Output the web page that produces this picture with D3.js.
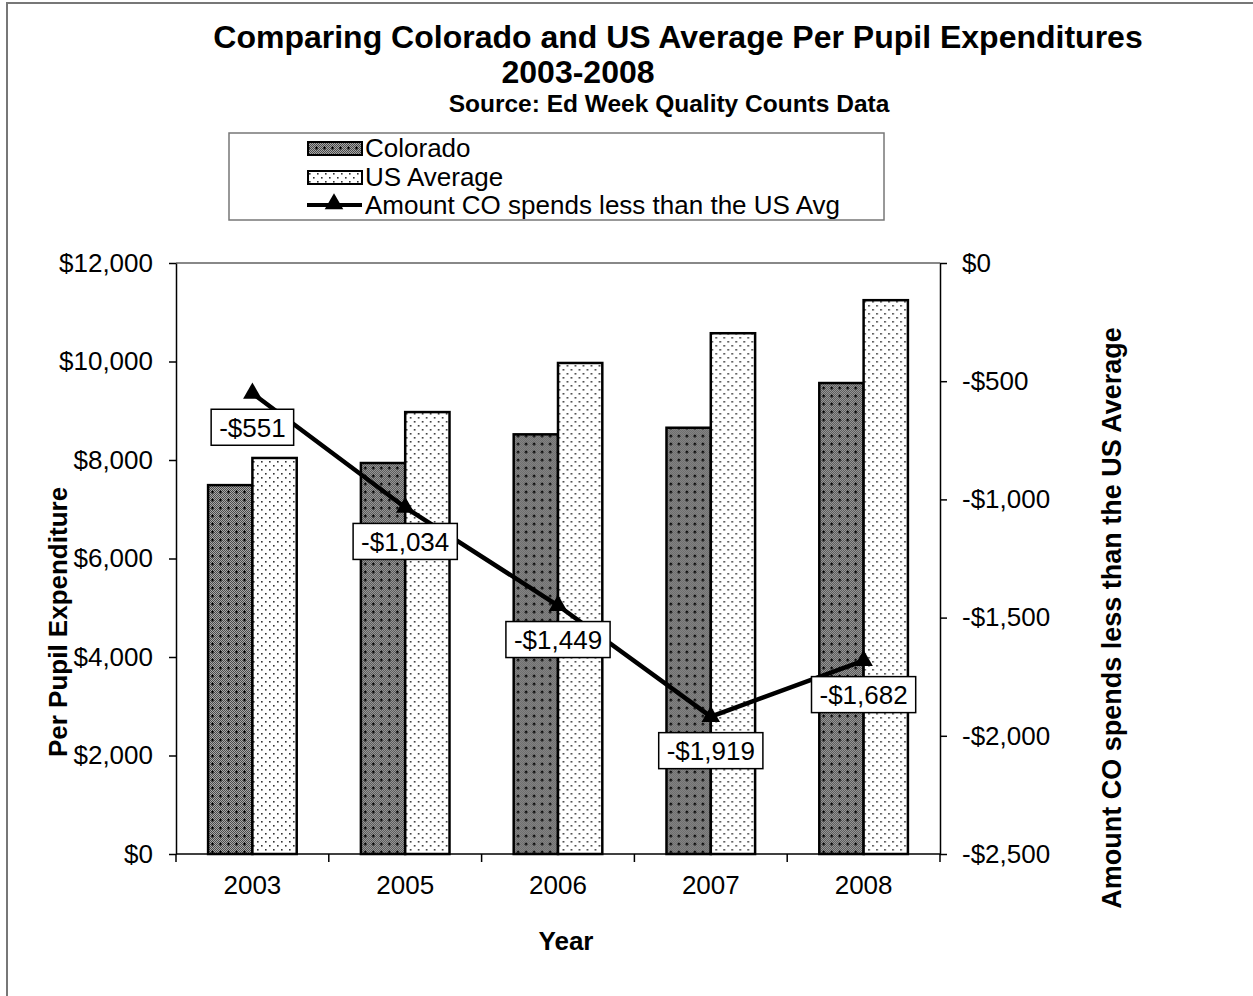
<!DOCTYPE html>
<html>
<head>
<meta charset="utf-8">
<script src="https://cdn.jsdelivr.net/npm/d3@7"></script>
<style>
  body { margin: 0; background: #fff; }
  svg { display: block; font-family: "Liberation Sans", Arial, sans-serif; }
</style>
</head>
<body>
<div id="chart"></div>
<script>
// Chart data
const years = ["2003", "2005", "2006", "2007", "2008"];
const colorado = [7490, 7939, 8521, 8655, 9563];
const usAverage = [8041, 8973, 9970, 10574, 11245];
const difference = [-551, -1034, -1449, -1919, -1682];
const leftTicks = [0, 2000, 4000, 6000, 8000, 10000, 12000];
const rightTicks = [0, -500, -1000, -1500, -2000, -2500];

const width = 1253, height = 996;
const plot = { left: 176, right: 940, top: 263, bottom: 854 };

const svg = d3.select("#chart").append("svg")
    .attr("width", width)
    .attr("height", height);

// Fill patterns
const defs = svg.append("defs");
const coPat = defs.append("pattern")
    .attr("id", "coPattern")
    .attr("patternUnits", "userSpaceOnUse")
    .attr("width", 8).attr("height", 8);
coPat.append("rect").attr("width", 8).attr("height", 8).attr("fill", "#a8a8a8");
for (let i = 0; i < 8; i++) {
    for (let j = 0; j < 8; j++) {
        if ((i + j) % 2 === 0) coPat.append("rect").attr("x", i).attr("y", j)
            .attr("width", 1).attr("height", 1).attr("fill", "#4a4a4a");
    }
}
coPat.append("path").attr("d", "M3,4h3M4.5,2.5v3").attr("stroke", "#000").attr("stroke-width", 1.2);

const usPat = defs.append("pattern")
    .attr("id", "usPattern")
    .attr("patternUnits", "userSpaceOnUse")
    .attr("width", 8).attr("height", 8);
usPat.append("rect").attr("width", 8).attr("height", 8).attr("fill", "#fff");
usPat.append("rect").attr("x", 1).attr("y", 1).attr("width", 1.6).attr("height", 1.6).attr("fill", "#333");
usPat.append("rect").attr("x", 5).attr("y", 5).attr("width", 1.6).attr("height", 1.6).attr("fill", "#333");

// Outer chart border
svg.append("rect")
    .attr("x", 7).attr("y", 3)
    .attr("width", 1400).attr("height", 1200)
    .attr("fill", "none")
    .attr("stroke", "#777")
    .attr("stroke-width", 2);

// Titles
svg.append("text").attr("x", 678).attr("y", 48).attr("text-anchor", "middle")
    .style("font-size", "32px").style("font-weight", "bold")
    .text("Comparing Colorado and US Average Per Pupil Expenditures");
svg.append("text").attr("x", 578).attr("y", 83).attr("text-anchor", "middle")
    .style("font-size", "32px").style("font-weight", "bold")
    .text("2003-2008");
svg.append("text").attr("x", 669).attr("y", 112).attr("text-anchor", "middle")
    .style("font-size", "24.5px").style("font-weight", "bold")
    .text("Source: Ed Week Quality Counts Data");

// Scales
const x0 = d3.scaleBand().domain(years).range([plot.left, plot.right]);
const barW = x0.bandwidth() * 0.29;
const x1 = d3.scaleBand().domain(["co", "us"])
    .range([x0.bandwidth() / 2 - barW, x0.bandwidth() / 2 + barW]);
const yL = d3.scaleLinear().domain([0, 12000]).range([plot.bottom, plot.top]);
const yR = d3.scaleLinear().domain([-2500, 0]).range([plot.bottom, plot.top]);

const money = v => (v < 0 ? "-$" : "$") + d3.format(",")(Math.abs(v));

// Plot area top border
svg.append("line")
    .attr("x1", plot.left).attr("x2", plot.right)
    .attr("y1", plot.top).attr("y2", plot.top)
    .attr("stroke", "#888").attr("stroke-width", 2);

// Bars
const groups = svg.append("g").selectAll("g")
    .data(years)
    .join("g")
    .attr("transform", d => `translate(${x0(d)},0)`);

groups.append("rect")
    .attr("x", x1("co"))
    .attr("y", (d, i) => yL(colorado[i]))
    .attr("width", x1.bandwidth())
    .attr("height", (d, i) => yL(0) - yL(colorado[i]))
    .attr("fill", "url(#coPattern)")
    .attr("stroke", "#000").attr("stroke-width", 2.5);

groups.append("rect")
    .attr("x", x1("us"))
    .attr("y", (d, i) => yL(usAverage[i]))
    .attr("width", x1.bandwidth())
    .attr("height", (d, i) => yL(0) - yL(usAverage[i]))
    .attr("fill", "url(#usPattern)")
    .attr("stroke", "#000").attr("stroke-width", 2.5);

// Axes
const styleAxis = g => {
    g.select(".domain").attr("stroke", "#000").attr("stroke-width", 1.5);
    g.selectAll(".tick line").attr("stroke", "#000").attr("stroke-width", 1.5);
    g.selectAll(".tick text").style("font-size", "26px").style("font-family", "Liberation Sans, Arial, sans-serif").attr("fill", "#000");
};

svg.append("g")
    .attr("transform", `translate(${plot.left},0)`)
    .call(d3.axisLeft(yL).tickValues(leftTicks).tickFormat(money).tickSize(7).tickPadding(16).tickSizeOuter(0))
    .call(styleAxis);

svg.append("g")
    .attr("transform", `translate(${plot.right},0)`)
    .call(d3.axisRight(yR).tickValues(rightTicks).tickFormat(money).tickSize(7).tickPadding(15).tickSizeOuter(0))
    .call(styleAxis);

// X axis: line, category-boundary ticks, labels
const xAxis = svg.append("g");
xAxis.append("line")
    .attr("x1", plot.left).attr("x2", plot.right)
    .attr("y1", plot.bottom).attr("y2", plot.bottom)
    .attr("stroke", "#000").attr("stroke-width", 1.5);
const bounds = years.map(d => x0(d)).concat([plot.right]);
xAxis.selectAll(".bt").data(bounds).join("line")
    .attr("x1", d => d).attr("x2", d => d)
    .attr("y1", plot.bottom).attr("y2", plot.bottom + 8)
    .attr("stroke", "#000").attr("stroke-width", 1.5);
xAxis.selectAll(".yl").data(years).join("text")
    .attr("x", d => x0(d) + x0.bandwidth() / 2)
    .attr("y", plot.bottom + 40)
    .attr("text-anchor", "middle")
    .style("font-size", "26px")
    .text(d => d);

// Axis titles
svg.append("text").attr("x", 566).attr("y", 950).attr("text-anchor", "middle")
    .style("font-size", "26px").style("font-weight", "bold").text("Year");
svg.append("text")
    .attr("transform", "translate(67,622) rotate(-90)")
    .attr("text-anchor", "middle")
    .style("font-size", "26px").style("font-weight", "bold")
    .text("Per Pupil Expenditure");
svg.append("text")
    .attr("transform", "translate(1121,618) rotate(-90)")
    .attr("text-anchor", "middle")
    .style("font-size", "27px").style("font-weight", "bold")
    .text("Amount CO spends less than the US Average");

// Difference line
const cx = d => x0(d) + x0.bandwidth() / 2;
const line = d3.line()
    .x((d, i) => cx(years[i]))
    .y(d => yR(d));
svg.append("path")
    .datum(difference)
    .attr("fill", "none")
    .attr("stroke", "#000")
    .attr("stroke-width", 4.5)
    .attr("d", line);

const tri = d3.symbol().type(d3.symbolTriangle).size(150);
svg.selectAll(".marker").data(difference).join("path")
    .attr("transform", (d, i) => `translate(${cx(years[i])},${yR(d)})`)
    .attr("d", tri)
    .attr("fill", "#000");

// Data labels
const labels = svg.selectAll(".dl").data(difference).join("g")
    .attr("transform", (d, i) => `translate(${cx(years[i])},${yR(d) + 34})`);
labels.append("text")
    .attr("text-anchor", "middle")
    .attr("dy", "0.36em")
    .style("font-size", "26px")
    .text(d => money(d));
labels.each(function() {
    const g = d3.select(this);
    const bb = g.select("text").node().getBBox();
    g.insert("rect", "text")
        .attr("x", bb.x - 8).attr("y", -18)
        .attr("width", bb.width + 16).attr("height", 36)
        .attr("fill", "#fff").attr("stroke", "#000").attr("stroke-width", 1.5);
});

// Legend
const legend = svg.append("g");
legend.append("rect")
    .attr("x", 229).attr("y", 133).attr("width", 655).attr("height", 87)
    .attr("fill", "#fff").attr("stroke", "#777").attr("stroke-width", 1.5);
const legendItems = [
    { label: "Colorado", fill: "url(#coPattern)", y: 148 },
    { label: "US Average", fill: "url(#usPattern)", y: 177 },
    { label: "Amount CO spends less than the US Avg", fill: null, y: 205 }
];
legendItems.forEach(item => {
    if (item.fill) {
        legend.append("rect")
            .attr("x", 308).attr("y", item.y - 6).attr("width", 54).attr("height", 13)
            .attr("fill", item.fill).attr("stroke", "#000").attr("stroke-width", 2);
    } else {
        legend.append("line")
            .attr("x1", 307).attr("x2", 362).attr("y1", item.y).attr("y2", item.y)
            .attr("stroke", "#000").attr("stroke-width", 4);
        legend.append("path")
            .attr("transform", `translate(334,${item.y - 1})`)
            .attr("d", tri).attr("fill", "#000");
    }
    legend.append("text")
        .attr("x", 365).attr("y", item.y)
        .attr("dy", "0.36em")
        .style("font-size", "26px")
        .text(item.label);
});
</script>
</body>
</html>
